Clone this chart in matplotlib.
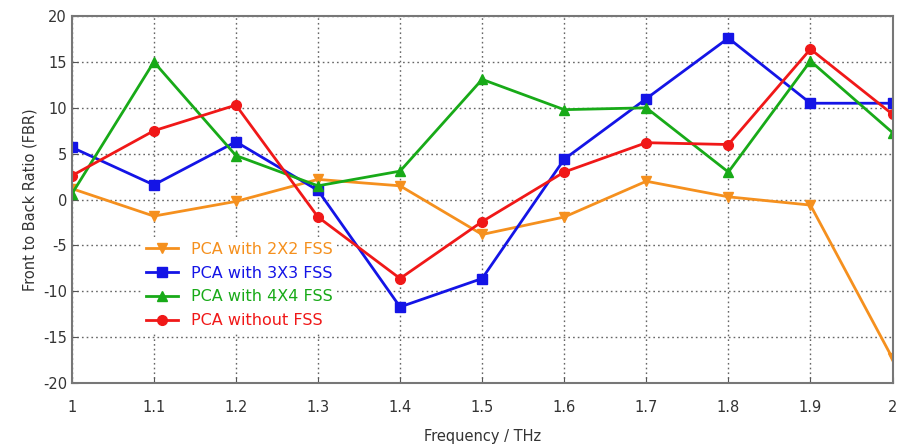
import matplotlib
matplotlib.use('Agg')
from matplotlib import pyplot

# frequency points (THz)
freq = [1.0, 1.1, 1.2, 1.3, 1.4, 1.5, 1.6, 1.7, 1.8, 1.9, 2.0]

# front to back ratio readings
fbr_2x2 = [1.2, -1.8, -0.2, 2.2, 1.5, -3.8, -1.9, 2.0, 0.3, -0.6, -17.3]
fbr_3x3 = [5.7, 1.6, 6.3, 1.0, -11.7, -8.6, 4.4, 11.0, 17.6, 10.5, 10.5]
fbr_4x4 = [0.6, 15.0, 4.8, 1.5, 3.1, 13.1, 9.8, 10.0, 3.0, 15.1, 7.3]
fbr_none = [2.6, 7.5, 10.3, -1.9, -8.6, -2.4, 3.0, 6.2, 6.0, 16.4, 9.3]

labels = ['PCA with 2X2 FSS', 'PCA with 3X3 FSS', 'PCA with 4X4 FSS',
          'PCA without FSS']

yticks = list(range(-20, 21, 5))
xticks = [1, 1.1, 1.2, 1.3, 1.4, 1.5, 1.6, 1.7, 1.8, 1.9, 2]
xtick_labels = ['1', '1.1', '1.2', '1.3', '1.4', '1.5', '1.6', '1.7',
                '1.8', '1.9', '2']

pyplot.rcParams['font.family'] = ['DejaVu Sans']
pyplot.rcParams['axes.unicode_minus'] = False

fig = pyplot.figure(figsize=(8.97, 4.46), dpi=100)
ax = fig.add_axes([0.080, 0.141, 0.915, 0.823])

series = [
    (fbr_2x2, '#f5901e', 'v'),
    (fbr_3x3, '#1414e6', 's'),
    (fbr_4x4, '#18aa18', '^'),
    (fbr_none, '#f01818', 'o'),
]
for (vals, color, marker), lab in zip(series, labels):
    ax.plot(freq, vals, color=color, marker=marker, markersize=7,
            linewidth=2, label=lab)

ax.set_xlim(1, 2)
ax.set_ylim(-20, 20)
ax.set_xticks(xticks)
ax.set_xticklabels(xtick_labels)
ax.set_yticks(yticks)
ax.grid(True, linestyle=(0, (1.2, 2.2)), color='#666666', linewidth=1.0)
ax.tick_params(labelsize=10.5, color='#555555', length=4, direction='in',
               labelcolor='#333333')
ax.tick_params(axis='x', pad=12)

for side in ['top', 'right', 'left', 'bottom']:
    ax.spines[side].set_color('#777777')
    ax.spines[side].set_linewidth(1.5)

ax.set_xlabel('Frequency / THz', fontsize=10.5, color='#333333', labelpad=10)
ax.set_ylabel('Front to Back Ratio (FBR)', fontsize=10.5, color='#333333')

leg = ax.legend(loc='lower left', bbox_to_anchor=(0.075, 0.115),
                frameon=True, fontsize=11.5, handlelength=2.0,
                labelspacing=0.55, borderpad=0.3, edgecolor='none',
                facecolor='white', framealpha=1.0)
for text, (vals, color, marker) in zip(leg.get_texts(), series):
    text.set_color(color)

fig.savefig('out.png', dpi=100)
